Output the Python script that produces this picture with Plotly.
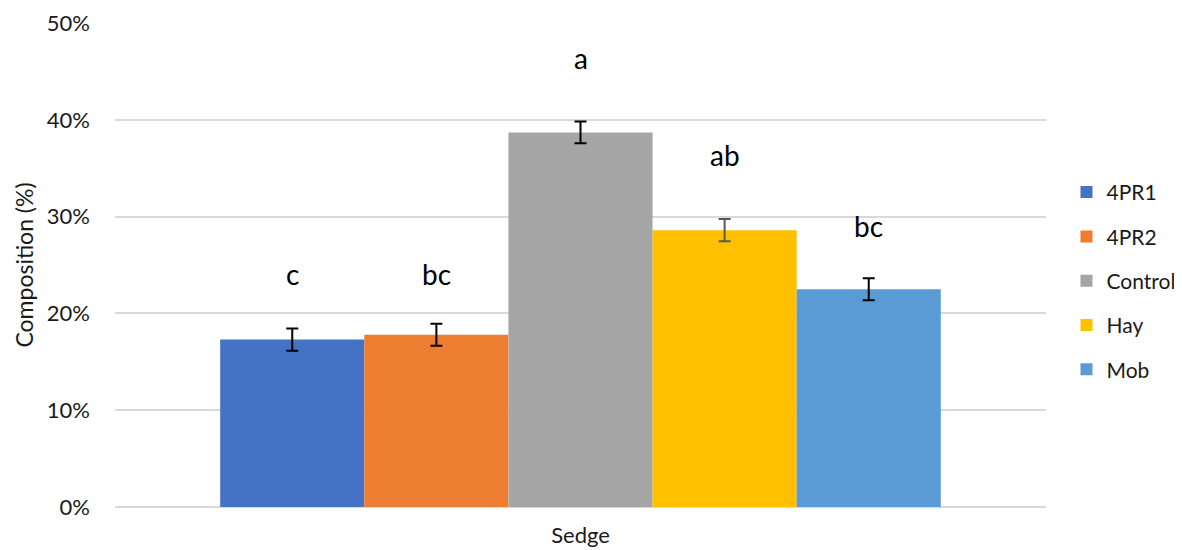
import plotly.graph_objects as go

category = ["Sedge"]
treatments = ["4PR1", "4PR2", "Control", "Hay", "Mob"]
values = [0.173, 0.178, 0.387, 0.286, 0.225]
errors = [0.0115, 0.0113, 0.0113, 0.0115, 0.0113]
letters = ["c", "bc", "a", "ab", "bc"]
letter_y = [0.241, 0.241, 0.464, 0.364, 0.290]
colors = ["#4472C4", "#ED7D31", "#A5A5A5", "#FFC000", "#5B9BD5"]
err_colors = ["#000000", "#000000", "#000000", "#595959", "#000000"]
y_ticks = [0, 0.1, 0.2, 0.3, 0.4, 0.5]

FONT = "Lato, 'Open Sans', sans-serif"
TXT = "#1a1a1a"
bargap = 0.226

fig = go.Figure()
for i, t in enumerate(treatments):
    fig.add_trace(go.Bar(
        x=category, y=[values[i]], name=t, legendgroup=t,
        marker=dict(color=colors[i], line=dict(width=0)),
        error_y=dict(type="data", array=[errors[i]], color=err_colors[i],
                     thickness=2, width=6),
    ))

n = len(treatments)
w = (1 - bargap) / n
for i in range(n):
    xc = -0.5 + bargap / 2 + (i + 0.5) * w
    fig.add_annotation(x=xc, y=letter_y[i], text=letters[i], showarrow=False,
                       xref="x", yref="y",
                       font=dict(family=FONT, size=28, color="#000000"))

fig.update_layout(
    width=1174, height=542,
    margin=dict(l=107, r=136, t=15, b=43, autoexpand=False),
    paper_bgcolor="white", plot_bgcolor="white",
    barmode="group", bargap=bargap, bargroupgap=0,
    font=dict(family=FONT, color=TXT),
    showlegend=True,
    legend=dict(x=1.022, xanchor="left", y=0.467, yanchor="middle",
                font=dict(family=FONT, size=21, color=TXT),
                tracegroupgap=14, itemwidth=30,
                bgcolor="rgba(0,0,0,0)"),
    xaxis=dict(showgrid=False, showline=False, zeroline=False, automargin=False,
               tickfont=dict(family=FONT, size=22, color=TXT),
               ticks="", ticklabelstandoff=13),
    yaxis=dict(range=[0, 0.5], tickvals=y_ticks, tickformat=".0%", automargin=False,
               showgrid=True, gridcolor="#D9D9D9", gridwidth=1.5,
               zeroline=True, zerolinecolor="#D9D9D9", zerolinewidth=1.5,
               showline=False, ticks="",
               tickfont=dict(family=FONT, size=22, color=TXT),
               ticklabelstandoff=24,
               title=dict(text="Composition (%)", standoff=6,
                          font=dict(family=FONT, size=23, color=TXT))),
)

fig.write_html("out.html")
